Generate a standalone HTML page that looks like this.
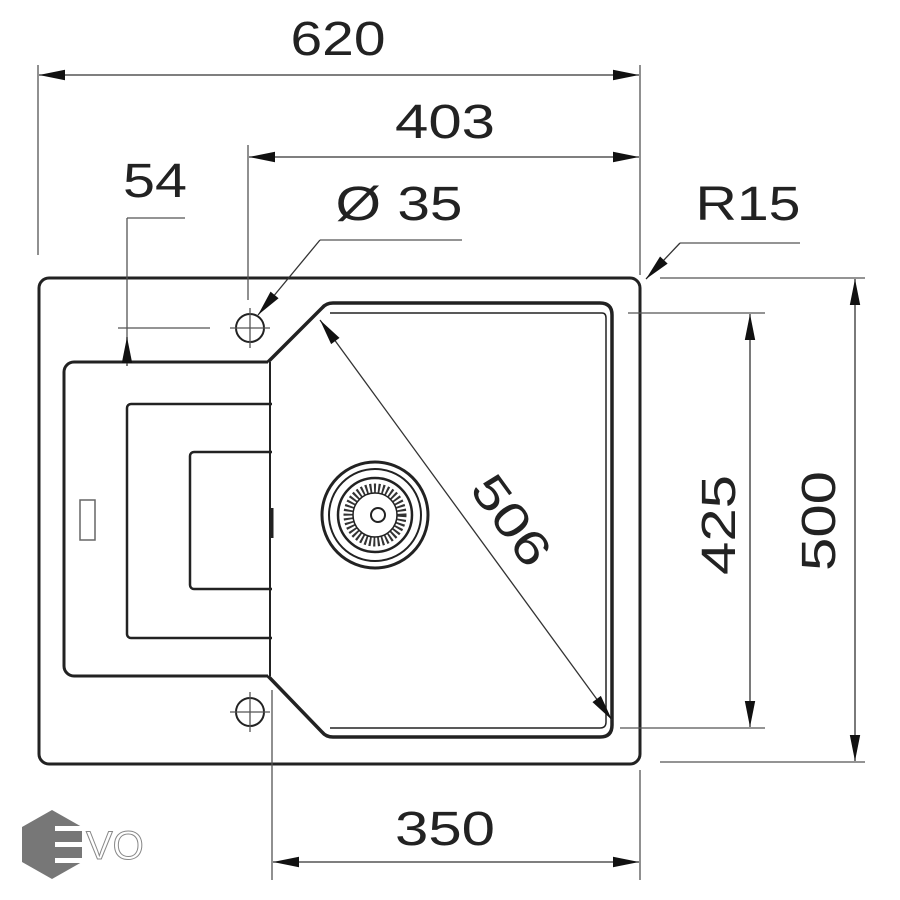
<!DOCTYPE html>
<html><head><style>body{margin:0;background:#fff}svg{display:block}</style></head><body>
<svg width="900" height="900" viewBox="0 0 900 900" xmlns="http://www.w3.org/2000/svg" font-family="Liberation Sans, sans-serif">
<defs>
<marker id="b" viewBox="0 0 20 10" refX="20" refY="5" markerWidth="28" markerHeight="13" markerUnits="userSpaceOnUse" orient="auto-start-reverse"><path d="M0,1L20,5L0,9z" fill="#111"/></marker>
</defs>
<g fill="none" stroke="#222">
<rect x="39" y="278" width="601" height="486" rx="10" stroke-width="3"/>
<path d="M268,362H74a10,10 0 0 0-10,10V666a10,10 0 0 0 10,10H268" stroke-width="3"/>
<path d="M272,404H131a4,4 0 0 0-4,4V634a4,4 0 0 0 4,4H272" stroke-width="2.5"/>
<path d="M272,452H194a4,4 0 0 0-4,4V585a4,4 0 0 0 4,4H272" stroke-width="2.5"/>
<rect x="80" y="500" width="15" height="40" stroke-width="1.5" stroke="#666"/>
<line x1="270" y1="362" x2="270" y2="676" stroke-width="2"/>
<path d="M272,508v30" stroke-width="3"/>
<path d="M268,362L322,308Q326,303 333,303H600Q612,303 612,315V725Q612,737 600,737H333Q326,737 322,732L268,676" stroke-width="3.5"/>
<path d="M330,313H602Q606,313 606,318V722Q606,728 600,728H330" stroke-width="1.5"/>
<circle cx="375" cy="515" r="53" stroke-width="3"/>
<circle cx="375" cy="515" r="46" stroke-width="2"/>
<circle cx="375" cy="515" r="37" stroke-width="2.5"/>
<circle cx="375" cy="515" r="27" stroke-width="9" stroke-dasharray="2 2.2" stroke="#333"/>
<circle cx="375" cy="515" r="22" stroke-width="1.5"/>
<circle cx="378" cy="515" r="7" stroke-width="2"/>
<circle cx="250" cy="328" r="14" stroke-width="2"/>
<circle cx="250" cy="712" r="14" stroke-width="2"/>
<g stroke-width="1.3" stroke="#555">
<path d="M230,328H270M250,308V348M230,712H270M250,692V732"/>
<path d="M38,65V255M640,65V275M248,145V300M127,218V362M127,218H185M118,328H210"/>
<path d="M628,313H765M620,728H765M660,278H865M660,762H865M272,690V880M640,770V880"/>
<path d="M462,240H320"/>
<path d="M800,243H680"/>
</g>
<g stroke-width="1.3" stroke="#333">
<line x1="39" y1="75" x2="639" y2="75" marker-start="url(#b)" marker-end="url(#b)"/>
<line x1="249" y1="157" x2="639" y2="157" marker-start="url(#b)" marker-end="url(#b)"/>
<line x1="750" y1="314" x2="750" y2="727" marker-start="url(#b)" marker-end="url(#b)"/>
<line x1="855" y1="279" x2="855" y2="761" marker-start="url(#b)" marker-end="url(#b)"/>
<line x1="273" y1="862" x2="639" y2="862" marker-start="url(#b)" marker-end="url(#b)"/>
<line x1="320" y1="320" x2="612" y2="720" marker-start="url(#b)" marker-end="url(#b)"/>
<line x1="127" y1="366" x2="127" y2="337" marker-end="url(#b)"/>
<line x1="320" y1="240" x2="258" y2="315" marker-end="url(#b)"/>
<line x1="680" y1="243" x2="646" y2="279" marker-end="url(#b)"/>
</g>
</g>
<g fill="#222" font-size="48" text-anchor="middle" lengthAdjust="spacingAndGlyphs">
<text x="338" y="55" textLength="95" lengthAdjust="spacingAndGlyphs">620</text>
<text x="445" y="138" textLength="100" lengthAdjust="spacingAndGlyphs">403</text>
<text x="155" y="197" textLength="64" lengthAdjust="spacingAndGlyphs">54</text>
<text x="399" y="220" textLength="127" lengthAdjust="spacingAndGlyphs">Ø 35</text>
<text x="748" y="220" textLength="105" lengthAdjust="spacingAndGlyphs">R15</text>
<text x="445" y="845" textLength="100" lengthAdjust="spacingAndGlyphs">350</text>
<text transform="translate(735,525) rotate(-90)" textLength="100" lengthAdjust="spacingAndGlyphs">425</text>
<text transform="translate(835,521) rotate(-90)" textLength="100" lengthAdjust="spacingAndGlyphs">500</text>
<text transform="translate(498,530) rotate(54)" textLength="100" lengthAdjust="spacingAndGlyphs">506</text>
</g>
<g>
<polygon points="52,810 82,827 82,862 52,879 22,862 22,827" fill="#777"/>
<rect x="55" y="826" width="27" height="5" fill="#fff"/>
<rect x="55" y="842" width="27" height="5" fill="#fff"/>
<rect x="55" y="858" width="27" height="5" fill="#fff"/>
<text x="86" y="859" font-size="40" fill="#fff" stroke="#888" stroke-width="1">VO</text>
</g>
</svg>
</body></html>
